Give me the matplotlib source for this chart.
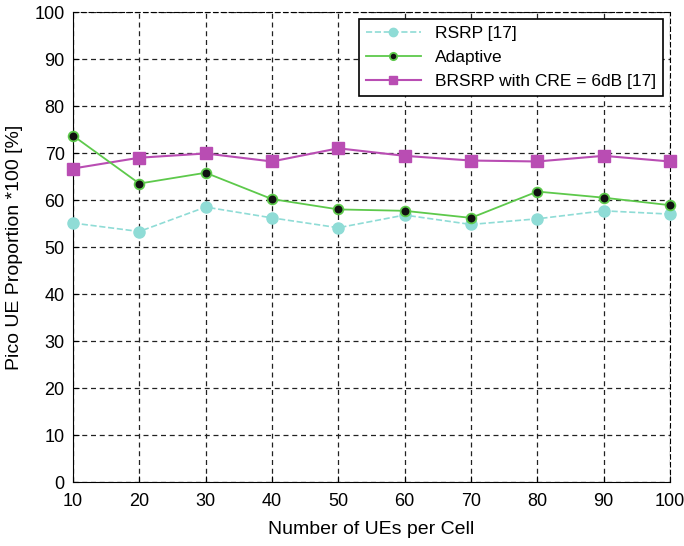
import matplotlib

matplotlib.use("Agg")

import matplotlib.pyplot as plt

plt.rcParams["font.family"] = ["Liberation Sans", "DejaVu Sans"]

ues = [10, 20, 30, 40, 50, 60, 70, 80, 90, 100]
rsrp = [55.1, 53.3, 58.5, 56.2, 54.1, 56.8, 54.8, 56.0, 57.7, 57.0]
adaptive = [73.7, 63.5, 65.8, 60.2, 58.0, 57.7, 56.2, 61.8, 60.5, 58.9]
brsrp = [66.7, 69.0, 69.9, 68.2, 71.0, 69.4, 68.4, 68.2, 69.4, 68.2]

fig = plt.figure(figsize=(6.84, 5.46), dpi=100)
ax = fig.add_axes([0.1067, 0.1172, 0.8728, 0.8608])

ax.plot(ues, rsrp, linestyle="--", color="#8fdcd6", linewidth=1.2,
        marker="o", markersize=8, markerfacecolor="#8fdcd6",
        markeredgecolor="#8fdcd6", label="RSRP [17]", zorder=3, clip_on=False)
ax.plot(ues, adaptive, linestyle="-", color="#5dc94b", linewidth=1.3,
        marker="o", markersize=7, markerfacecolor="#111111",
        markeredgecolor="#5dc94b", markeredgewidth=1.3,
        label="Adaptive", zorder=4, clip_on=False)
ax.plot(ues, brsrp, linestyle="-", color="#b94db3", linewidth=1.5,
        marker="s", markersize=8, markerfacecolor="#b94db3",
        markeredgecolor="#b94db3", label="BRSRP with CRE = 6dB [17]", zorder=3, clip_on=False)

ax.set_xlim(10, 100)
ax.set_ylim(0, 100)
ax.set_xticks(ues)
ax.set_yticks(range(0, 101, 10))
ax.tick_params(direction="in", labelsize=13, length=4)
ax.tick_params(axis="x", pad=8)
ax.tick_params(axis="y", pad=6)
ax.grid(True, color="#222222", linestyle=(0, (4, 3)), linewidth=0.9)
for side in ["top", "right"]:
    ax.spines[side].set_linestyle((0, (4, 3)))

ax.set_xlabel("Number of UEs per Cell", fontsize=14, labelpad=8)
ax.set_ylabel("Pico UE Proportion *100 [%]", fontsize=14, labelpad=8)

leg = ax.legend(loc="upper right", fontsize=12.5, fancybox=False, framealpha=1,
                edgecolor="black", borderaxespad=0.4, handlelength=3.2,
                markerscale=0.75, numpoints=1)
leg.get_frame().set_linewidth(1.2)

fig.savefig("out.png", dpi=100)
